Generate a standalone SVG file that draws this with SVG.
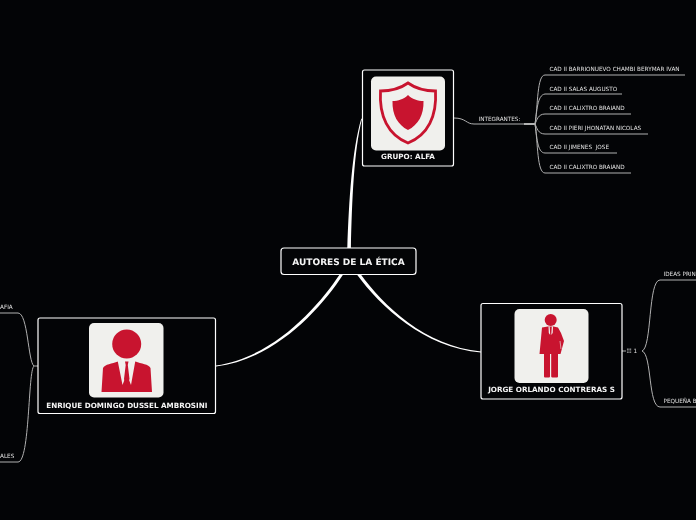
<svg xmlns="http://www.w3.org/2000/svg" width="696" height="520" viewBox="0 0 696 520">
<style>
.box{fill:#030406;stroke:#fff;stroke-width:1.2}
.t{font-family:"DejaVu Sans",sans-serif;font-weight:700;fill:#f4f4f4;text-anchor:middle;text-rendering:geometricPrecision;filter:url(#soft)}
.s{font-family:"DejaVu Sans",sans-serif;font-size:5.7px;fill:#e0e0e0;white-space:pre;text-rendering:geometricPrecision;filter:url(#soft)}
.c{fill:#fff;stroke:none}
.l{fill:none;stroke:#b0b0b0;stroke-width:1}
.card{fill:#f0f0ed}
.red{fill:#c8142f}
</style>
<defs>
<filter id="soft" x="-5%" y="-30%" width="110%" height="160%"><feGaussianBlur stdDeviation="0.2"/></filter>
</defs>
<rect width="696" height="520" fill="#030406"/>
<g id="connectors">
<path class="c" d="M347.300 248C349 200 352 150 361.300 118.500L362 119C354 150 352 200 350.900 248Z"/>
<path class="c" d="M340 274C318 307 274 357 216 365.500V366.500C276 359 321 308.500 343.500 274Z"/>
<path class="c" d="M356.500 274C380 306 424 348 481 352.400V351.400C425 346.500 383 305 360.500 274Z"/>
<path class="l" d="M454 118C466 118 466 124 474 124H524"/>
<path class="c" d="M524 123.300H535V124.700H524Z"/>
<path class="l" d="M535 124C538 105 537 75 545 75H685"/>
<path class="l" d="M535 124C537 112 537 95 545 94H622"/>
<path class="l" d="M535 124C537 120 538 114 545 114H631"/>
<path class="l" d="M535 124C537 128 538 134 545 134H648"/>
<path class="l" d="M535 124C537 136 537 153 545 153H617"/>
<path class="l" d="M535 124C538 143 537 173 545 173H631"/>
<path class="l" d="M38 366H34C28 362 28 313 18 313H0"/>
<path class="l" d="M34 366C28 370 30 462 18 462H0"/>
<path class="l" d="M622 351H626"/>
<path class="l" d="M642 351C652 348 648 280 660 280H696"/>
<path class="l" d="M642 351C652 354 648 407 660 407H696"/>
</g>
<g id="root">
<rect class="box" x="281" y="248" width="135" height="26.500" rx="3"/>
<text class="t" x="348.500" y="265" font-size="9">AUTORES DE LA ÉTICA</text>
</g>
<g id="grupo-alfa">
<rect class="box" x="362.500" y="70" width="91" height="96" rx="2"/>
<rect class="card" x="371" y="76.500" width="74" height="74" rx="5"/>
<path fill="none" stroke="#c8142f" stroke-width="2.800" d="M408 83C401 88 392 91 380.500 91C379 116 388 135 408 143C428 135 437 116 435.500 91C424 91 415 88 408 83Z"/>
<path class="red" d="M408 95C404 99 398 101 392.500 101C392 115 398 125 408 130C418 125 424 115 423.500 101C418 101 412 99 408 95Z"/>
<text class="t" x="408" y="159" font-size="7.200">GRUPO: ALFA</text>
</g>
<g id="integrantes"><text class="s" x="478.500" y="120.500">INTEGRANTES:</text></g>
<g id="m1"><text class="s" x="549.500" y="71">CAD II BARRIONUEVO CHAMBI BERYMAR IVAN</text></g>
<g id="m2"><text class="s" x="549.500" y="91">CAD II SALAS AUGUSTO</text></g>
<g id="m3"><text class="s" x="549.500" y="110">CAD II CALIXTRO BRAIAND</text></g>
<g id="m4"><text class="s" x="549.500" y="130">CAD II PIERI JHONATAN NICOLAS</text></g>
<g id="m5"><text class="s" x="549.500" y="149">CAD II JIMENES  JOSE</text></g>
<g id="m6"><text class="s" x="549.500" y="169">CAD II CALIXTRO BRAIAND</text></g>
<g id="enrique">
<rect class="box" x="38" y="318" width="177.500" height="95.500" rx="2"/>
<rect class="card" x="89" y="323" width="74.500" height="74.500" rx="5"/>
<circle class="red" cx="126.700" cy="344" r="14.500"/>
<path class="red" d="M101.500 392L103 368C105 364 112 364 118 361.500H135.500C141 364 149 364 150.500 368L152 392Z"/>
<path class="card" d="M117.500 360L122.500 385L126.700 374L131 385L135.500 360Z"/>
<path class="red" d="M125 361.500H128.500L127.800 365L129.500 379L126.700 386L124 379L125.700 365Z"/>
<text class="t" x="126.800" y="407.500" font-size="7.200">ENRIQUE DOMINGO DUSSEL AMBROSINI</text>
</g>
<g id="l-afia"><text class="s" x="0" y="309">AFIA</text></g>
<g id="l-ales"><text class="s" x="0" y="458">ALES</text></g>
<g id="jorge">
<rect class="box" x="481" y="303.500" width="141" height="95.500" rx="2"/>
<rect class="card" x="514.500" y="309" width="74" height="74" rx="5"/>
<circle class="red" cx="550.700" cy="320" r="6"/>
<path class="red" d="M542 327.500L548 326.500H553.500L558 327.500L561 333L564 341L560.500 354H558V376.500Q558 377.500 557 377.500H552.500Q551.300 377.500 551.200 376.500V354H550V376.500Q550 377.500 549 377.500H545Q544 377.500 544 376.500V354H539.500Z"/>
<path class="card" d="M548.500 326.500H549.700L550.200 335L548.800 333ZM551.800 326.500H553L552.700 333L551.300 335Z"/>
<path fill="none" stroke="#f0f0ed" stroke-width=".6" d="M560 341L561 349"/>
<text class="t" x="551.500" y="392" font-size="7.200">JORGE ORLANDO CONTRERAS S</text>
</g>
<g id="count"><text class="s" x="626.500" y="353">☷ 1</text></g>
<g id="ideas"><text class="s" x="663.500" y="276">IDEAS PRIN</text></g>
<g id="pequena"><text class="s" x="663.500" y="403">PEQUEÑA B</text></g>
</svg>
